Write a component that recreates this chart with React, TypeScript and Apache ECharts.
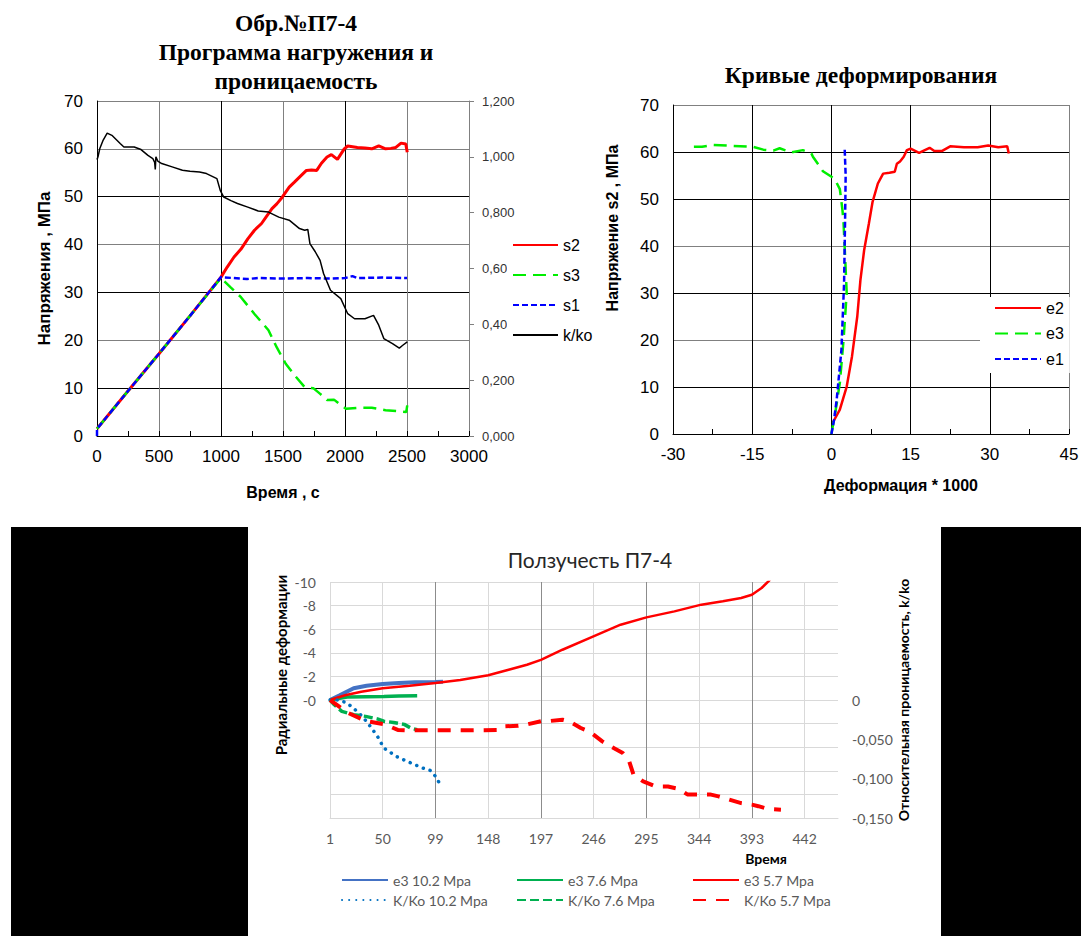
import React, { useEffect, useRef } from 'react';
import * as echarts from 'echarts';

// ---------- Chart 1: Программа нагружения и проницаемость ----------
const s2Time = [0, 250, 500, 750, 1000, 1050, 1105, 1160, 1216, 1270, 1327, 1370, 1411, 1450, 1494, 1550, 1590, 1633, 1689, 1730, 1772, 1810, 1855, 1890, 1939, 1994, 2022, 2100, 2160, 2216, 2272, 2327, 2370, 2410, 2452, 2490, 2502];
const s2Stress = [1.5, 9.4, 17.2, 25.1, 33.2, 35.3, 37.4, 39.0, 41.2, 43.0, 44.4, 46.0, 47.5, 48.5, 49.9, 52.0, 53.0, 54.1, 55.5, 55.6, 55.5, 57.0, 58.3, 58.8, 57.8, 60.0, 60.6, 60.3, 60.2, 60.0, 60.6, 60.0, 60.1, 60.3, 61.2, 61.0, 59.3];
const s3Time = [0, 250, 500, 750, 1000, 1080, 1161, 1270, 1383, 1450, 1522, 1600, 1675, 1744, 1800, 1855, 1911, 1960, 2008, 2105, 2216, 2327, 2420, 2494, 2502];
const s3Stress = [1.5, 9.4, 17.2, 25.1, 33.0, 31.0, 29.0, 25.5, 22.1, 18.5, 15.1, 12.5, 10.2, 10.0, 8.8, 7.5, 7.6, 6.6, 5.7, 5.9, 5.9, 5.4, 5.2, 5.0, 6.4];
const s1Time = [0, 0, 250, 500, 750, 1000, 1100, 1210, 1300, 1500, 1700, 1900, 2000, 2060, 2100, 2300, 2500];
const s1Stress = [0, 1.5, 9.4, 17.2, 25.1, 33.2, 33.0, 32.8, 33.0, 32.9, 33.0, 32.9, 33.0, 33.4, 33.0, 33.1, 33.0];
const kTime = [0, 8, 22, 50, 82, 120, 189, 217, 300, 355, 411, 450, 465, 470, 475, 490, 522, 606, 689, 750, 827, 883, 967, 994, 1022, 1080, 1133, 1216, 1300, 1383, 1466, 1550, 1633, 1675, 1700, 1717, 1760, 1799, 1827, 1883, 1966, 2022, 2077, 2161, 2230, 2272, 2313, 2383, 2438, 2466, 2502];
const kRatio = [0.99, 1.0, 1.029, 1.06, 1.085, 1.077, 1.047, 1.035, 1.035, 1.026, 1.005, 0.994, 0.98, 0.955, 1.0, 0.985, 0.976, 0.964, 0.952, 0.948, 0.946, 0.94, 0.922, 0.88, 0.856, 0.843, 0.833, 0.82, 0.806, 0.802, 0.784, 0.773, 0.743, 0.737, 0.74, 0.689, 0.66, 0.629, 0.582, 0.522, 0.492, 0.438, 0.42, 0.42, 0.432, 0.397, 0.349, 0.331, 0.315, 0.325, 0.337];

// ---------- Chart 2: Кривые деформирования ----------
const e2Strain = [0.3, 1.6, 2.9, 3.9, 4.9, 5.5, 6.2, 7.1, 7.8, 8.8, 9.8, 11.0, 12.0, 12.4, 13.0, 13.7, 14.3, 15.0, 16.6, 18.6, 19.5, 20.9, 22.5, 25.1, 27.7, 29.7, 31.6, 33.3, 33.6];
const e2Stress = [2.5, 5.2, 10.1, 16.5, 25, 32.8, 39.1, 44.8, 49.4, 53.3, 55.4, 55.6, 55.8, 57.5, 58, 59, 60.4, 60.7, 59.8, 60.9, 60.2, 60.2, 61.2, 61, 61, 61.4, 61, 61.2, 59.7];
const e3Strain = [0, 0.8, 1.6, 2.3, 2.9, 2.6, 2.3, 2.1, 1.6, 0.6, -1.6, -3.5, -3.8, -5.4, -7.6, -9.8, -11, -12.9, -14.8, -18.6, -22.4, -24.5, -26.2];
const e3Stress = [0, 5, 10.9, 20, 30, 37.7, 44.9, 47.6, 52.1, 54.3, 55.9, 59, 59.7, 60.4, 59.9, 60.8, 60.3, 60.5, 61.1, 61.3, 61.5, 61.1, 61.1];
const e1Strain = [0, 0.5, 1.0, 1.9, 2.4, 2.6, 2.7, 2.5];
const e1Stress = [0, 3, 7.3, 17.9, 32.1, 46.2, 55, 61.1];

// ---------- Chart 3: Ползучесть П7-4 ----------
const creepT_e3_102 = [1, 10, 23, 35, 50, 65, 80, 99, 106];
const creepV_e3_102 = [0, -0.4, -1.0, -1.2, -1.35, -1.45, -1.5, -1.53, -1.55];
const creepT_e3_76 = [1, 10, 17, 35, 51, 65, 82];
const creepV_e3_76 = [0, -0.15, -0.25, -0.28, -0.3, -0.33, -0.36];
const creepT_e3_57 = [1, 15, 30, 50, 75, 99, 122, 148, 167, 184, 197, 217, 242, 271, 295, 321, 346, 366, 383, 393, 402, 410];
const creepV_e3_57 = [0, -0.4, -0.7, -1.0, -1.2, -1.45, -1.7, -2.1, -2.57, -2.99, -3.4, -4.26, -5.25, -6.38, -7.0, -7.51, -8.08, -8.36, -8.64, -8.92, -9.49, -10.2];
const creepT_k_102 = [1, 9, 17, 28, 36, 45, 51, 63, 76, 87, 94, 99, 104];
const creepV_k_102 = [0, 0, -0.004, -0.0165, -0.029, -0.046, -0.061, -0.072, -0.08, -0.0864, -0.0895, -0.097, -0.109];
const creepT_k_76 = [1, 5, 12, 23, 34, 45, 51, 60, 70, 76, 82];
const creepV_k_76 = [0, -0.006, -0.0145, -0.0187, -0.0208, -0.024, -0.027, -0.0285, -0.031, -0.0356, -0.0378];
const creepT_k_57 = [1, 18, 35, 52, 64, 76, 101, 134, 159, 163, 176, 184, 197, 203, 217, 223, 234, 242, 254, 259, 273, 279, 283, 292, 304, 315, 325, 333, 346, 354, 362, 372, 383, 393, 399, 408, 420];
const creepV_k_57 = [0, -0.0165, -0.027, -0.031, -0.038, -0.0386, -0.0386, -0.0386, -0.038, -0.0335, -0.0327, -0.031, -0.027, -0.027, -0.025, -0.027, -0.0356, -0.04, -0.0526, -0.0568, -0.0674, -0.078, -0.095, -0.1035, -0.11, -0.11, -0.113, -0.12, -0.12, -0.12, -0.1225, -0.1267, -0.131, -0.133, -0.135, -0.1386, -0.1394];

const SANS = '"Liberation Sans", Arial, sans-serif';
const SERIF = '"Liberation Serif", "Times New Roman", serif';
const CAL = 'Lato, "Noto Sans", sans-serif';

const pairs = (xs: number[], ys: number[]) => xs.map((x, i) => [x, ys[i]]);
const shifted = (ts: number[]) => ts.map((t) => t - 1);

function line(name: string, xi: number, yi: number, data: number[][], color: string, width: number, type: any, extra: any = {}) {
  return {
    name,
    type: 'line',
    xAxisIndex: xi,
    yAxisIndex: yi,
    data,
    symbol: 'none',
    showSymbol: false,
    clip: true,
    lineStyle: { color, width, type, ...extra },
    itemStyle: { color },
  };
}

const hiddenSymbol = { opacity: 0 };

function buildOption(): any {
  return {
    animation: false,
    backgroundColor: '#ffffff',
    title: [
      {
        text: 'Обр.№П7-4\nПрограмма нагружения и\nпроницаемость',
        left: 296,
        top: 8,
        textAlign: 'center',
        padding: 0,
        textStyle: { fontFamily: SERIF, fontWeight: 'bold', fontSize: 23.5, lineHeight: 29, color: '#000' },
      },
      {
        text: 'Кривые деформирования',
        left: 861,
        top: 62,
        textAlign: 'center',
        padding: 0,
        textStyle: { fontFamily: SERIF, fontWeight: 'bold', fontSize: 23.5, lineHeight: 26, color: '#000' },
      },
      {
        text: 'Ползучесть П7-4',
        left: 590,
        top: 546,
        textAlign: 'center',
        padding: 0,
        textStyle: { fontFamily: CAL, fontWeight: 'normal', fontSize: 21, lineHeight: 26, color: '#262626' },
      },
    ],
    grid: [
      { left: 97, top: 101, width: 372, height: 335, outerBoundsMode: 'none' },
      { left: 673, top: 105, width: 396, height: 329, outerBoundsMode: 'none' },
      { left: 330, top: 582, width: 508, height: 236, outerBoundsMode: 'none' },
    ],
    xAxis: [
      {
        type: 'value', gridIndex: 0, min: 0, max: 3000, interval: 500,
        axisLine: { onZero: false, lineStyle: { color: '#000', width: 1 } },
        axisTick: { show: true, inside: true, length: 5, lineStyle: { color: '#000' } },
        minorTick: { show: true, splitNumber: 2, length: 5, lineStyle: { color: '#000' } },
        axisLabel: { fontSize: 17, color: '#000', fontFamily: SANS, margin: 12, formatter: (v: number) => String(v) },
        splitLine: { show: true, lineStyle: { color: ['#000', '#808080', '#000', '#808080', '#000', '#808080', '#808080'], width: 1 } },
        name: 'Время , с', nameLocation: 'middle', nameGap: 48,
        nameTextStyle: { fontWeight: 'bold', fontSize: 16, color: '#000', fontFamily: SANS },
      },
      {
        type: 'value', gridIndex: 1, min: -30, max: 45, interval: 15,
        axisLine: { onZero: false, lineStyle: { color: '#000', width: 1 } },
        axisTick: { show: true, inside: true, length: 5, lineStyle: { color: '#000' } },
        minorTick: { show: true, splitNumber: 2, length: 5, lineStyle: { color: '#000' } },
        axisLabel: { fontSize: 17, color: '#000', fontFamily: SANS, margin: 12, formatter: (v: number) => String(v) },
        splitLine: { show: true, lineStyle: { color: ['#000', '#000', '#000', '#000', '#000', '#808080'], width: 1 } },
        name: 'Деформация * 1000', nameLocation: 'middle', nameGap: 43,
        nameTextStyle: { fontWeight: 'bold', fontSize: 16, color: '#000', fontFamily: SANS, padding: [0, 0, 0, 60] },
      },
      {
        type: 'value', gridIndex: 2, min: 0, max: 472, interval: 49,
        axisLine: { onZero: false, lineStyle: { color: '#d9d9d9', width: 1 } },
        axisTick: { show: false },
        axisLabel: { fontSize: 14, color: '#595959', fontFamily: CAL, margin: 13, showMaxLabel: false, formatter: (v: number) => String(Math.round(v) + 1) },
        splitLine: { show: true, showMaxLine: false, lineStyle: { color: '#d9d9d9', width: 1 } },
      },
      {
        type: 'value', gridIndex: 2, min: 0, max: 472, interval: 98, position: 'bottom',
        axisLine: { show: false, onZero: false },
        axisTick: { show: false },
        axisLabel: { show: false },
        splitLine: { show: true, showMaxLine: false, lineStyle: { color: ['#d9d9d9', '#8c8c8c', '#8c8c8c', '#8c8c8c', '#8c8c8c', '#8c8c8c'], width: 1 } },
      },
    ],
    yAxis: [
      {
        type: 'value', gridIndex: 0, min: 0, max: 70, interval: 10,
        axisLine: { show: true, onZero: false, lineStyle: { color: '#000', width: 1 } },
        axisTick: { show: false },
        axisLabel: { fontSize: 17, color: '#000', fontFamily: SANS, margin: 14 },
        splitLine: { show: true, lineStyle: { color: ['#000', '#000', '#808080', '#000', '#808080', '#000', '#808080', '#808080'], width: 1 } },
        name: 'Напряжения , МПа', nameLocation: 'middle', nameGap: 44, nameRotate: 90,
        nameTextStyle: { fontWeight: 'bold', fontSize: 17, color: '#000', fontFamily: SANS },
      },
      {
        type: 'value', gridIndex: 0, position: 'right', min: 0, max: 1.2, interval: 0.2,
        axisLine: { show: true, onZero: false, lineStyle: { color: '#808080', width: 1 } },
        axisTick: { show: true, inside: false, length: 5, lineStyle: { color: '#808080' } },
        axisLabel: { fontSize: 13, color: '#333', fontFamily: SANS, margin: 13, formatter: (v: number) => v.toFixed(3).replace('.', ',') },
        splitLine: { show: false },
      },
      {
        type: 'value', gridIndex: 1, min: 0, max: 70, interval: 10,
        axisLine: { show: true, onZero: false, lineStyle: { color: '#000', width: 1 } },
        axisTick: { show: false },
        axisLabel: { fontSize: 17, color: '#000', fontFamily: SANS, margin: 14 },
        splitLine: { show: true, lineStyle: { color: ['#000', '#000', '#808080', '#000', '#808080', '#000', '#000', '#808080'], width: 1 } },
      },
      {
        type: 'value', gridIndex: 2, min: -10, max: 10, interval: 2, inverse: true,
        axisLine: { show: false, onZero: false },
        axisTick: { show: false },
        axisLabel: { fontSize: 14, color: '#595959', fontFamily: CAL, margin: 14, formatter: (v: number) => (v <= 0.0001 ? '-' + Math.abs(Math.round(v)) : '') },
        splitLine: { show: true, lineStyle: { color: '#d9d9d9', width: 1 } },
        name: 'Радиальные деформации', nameLocation: 'middle', nameGap: 42, nameRotate: 90,
        nameTextStyle: { fontWeight: 'bold', fontSize: 15, color: '#000', fontFamily: CAL, padding: [0, 0, 0, 70] },
      },
      {
        type: 'value', gridIndex: 2, position: 'right', min: -0.15, max: 0.15, interval: 0.05,
        axisLine: { show: false, onZero: false },
        axisTick: { show: false },
        axisLabel: {
          fontSize: 14, color: '#595959', fontFamily: CAL, margin: 14,
          formatter: (v: number) => (Math.abs(v) < 1e-9 ? '0' : v > 0 ? '' : v.toFixed(3).replace('.', ',')),
        },
        splitLine: { show: false },
        name: 'Относительная проницаемость, k/ko', nameLocation: 'middle', nameGap: 56, nameRotate: 90,
        nameTextStyle: { fontWeight: 'bold', fontSize: 14, color: '#000', fontFamily: CAL },
      },
    ],
    legend: [
      {
        orient: 'vertical', left: 507, top: 229, padding: [8, 4, 8, 5], itemWidth: 45, itemHeight: 14, itemGap: 14,
        backgroundColor: '#fff', data: ['s2', 's3', 's1', 'k/ko'], itemStyle: hiddenSymbol,
        textStyle: { fontFamily: SANS, fontSize: 16, color: '#000' },
      },
      {
        orient: 'vertical', left: 980, top: 297, padding: [3, 6, 6, 14], itemWidth: 46, itemHeight: 14, itemGap: 9.5,
        backgroundColor: '#fff', data: ['e2', 'e3', 'e1'], itemStyle: hiddenSymbol,
        textStyle: { fontFamily: SANS, fontSize: 16, color: '#000' },
      },
      {
        orient: 'vertical', left: 341, top: 873, padding: 0, itemWidth: 46, itemHeight: 14, itemGap: 6,
        data: ['e3 10.2 Mpa', 'K/Ko 10.2 Mpa'], itemStyle: hiddenSymbol,
        textStyle: { fontFamily: CAL, fontSize: 14, color: '#595959' },
      },
      {
        orient: 'vertical', left: 516, top: 873, padding: 0, itemWidth: 46, itemHeight: 14, itemGap: 6,
        data: ['e3 7.6 Mpa', 'K/Ko 7.6 Mpa'], itemStyle: hiddenSymbol,
        textStyle: { fontFamily: CAL, fontSize: 14, color: '#595959' },
      },
      {
        orient: 'vertical', left: 692, top: 873, padding: 0, itemWidth: 46, itemHeight: 14, itemGap: 6,
        data: ['e3 5.7 Mpa', 'K/Ko 5.7 Mpa'], itemStyle: hiddenSymbol,
        textStyle: { fontFamily: CAL, fontSize: 14, color: '#595959' },
      },
    ],
    graphic: [
      { type: 'rect', shape: { x: 11, y: 527, width: 237, height: 409 }, style: { fill: '#000' }, silent: true },
      { type: 'rect', shape: { x: 941, y: 527, width: 140, height: 409 }, style: { fill: '#000' }, silent: true },
      {
        type: 'text', x: 766, y: 858,
        style: { text: 'Время', font: 'bold 14px Lato, "Noto Sans", sans-serif', fill: '#000', textAlign: 'center', textVerticalAlign: 'middle' },
      },
      {
        type: 'text', x: 612, y: 228, rotation: Math.PI / 2, z: 10,
        style: { text: 'Напряжение s2 , МПа', font: 'bold 16px "Liberation Sans", Arial, sans-serif', fill: '#000', textAlign: 'center', textVerticalAlign: 'middle' },
      },
    ],
    series: [
      line('s2', 0, 0, pairs(s2Time, s2Stress), '#ff0000', 3, 'solid'),
      line('s3', 0, 0, pairs(s3Time, s3Stress), '#00ee00', 2.5, [13, 7]),
      line('s1', 0, 0, pairs(s1Time, s1Stress), '#0000ff', 2.5, [6, 3]),
      line('k/ko', 0, 1, pairs(kTime, kRatio), '#000000', 1.5, 'solid'),

      line('e2', 1, 2, pairs(e2Strain, e2Stress), '#ff0000', 2.5, 'solid'),
      line('e3', 1, 2, pairs(e3Strain, e3Stress), '#00ee00', 2.5, [13, 7]),
      line('e1', 1, 2, pairs(e1Strain, e1Stress), '#0000ff', 2.5, [6, 3]),

      line('e3 10.2 Mpa', 2, 3, pairs(shifted(creepT_e3_102), creepV_e3_102), '#4472c4', 4, 'solid'),
      line('e3 7.6 Mpa', 2, 3, pairs(shifted(creepT_e3_76), creepV_e3_76), '#00b050', 3.5, 'solid'),
      line('e3 5.7 Mpa', 2, 3, pairs(shifted(creepT_e3_57), creepV_e3_57), '#ff0000', 2.5, 'solid'),
      line('K/Ko 10.2 Mpa', 2, 4, pairs(shifted(creepT_k_102), creepV_k_102), '#0070c0', 3.5, [0.1, 7], { cap: 'round' }),
      line('K/Ko 7.6 Mpa', 2, 4, pairs(shifted(creepT_k_76), creepV_k_76), '#00b050', 3.5, [9, 4]),
      line('K/Ko 5.7 Mpa', 2, 4, pairs(shifted(creepT_k_57), creepV_k_57), '#ff0000', 4, [13, 10]),
    ],
  };
}

export default function App() {
  const ref = useRef<HTMLDivElement>(null);
  useEffect(() => {
    if (!ref.current) return;
    const chart = echarts.init(ref.current, null, { renderer: 'svg' });
    chart.setOption(buildOption());
    return () => chart.dispose();
  }, []);
  return (
    <div
      ref={ref}
      style={{ position: 'absolute', left: 0, top: 0, width: 1081, height: 936, background: '#fff' }}
    />
  );
}
